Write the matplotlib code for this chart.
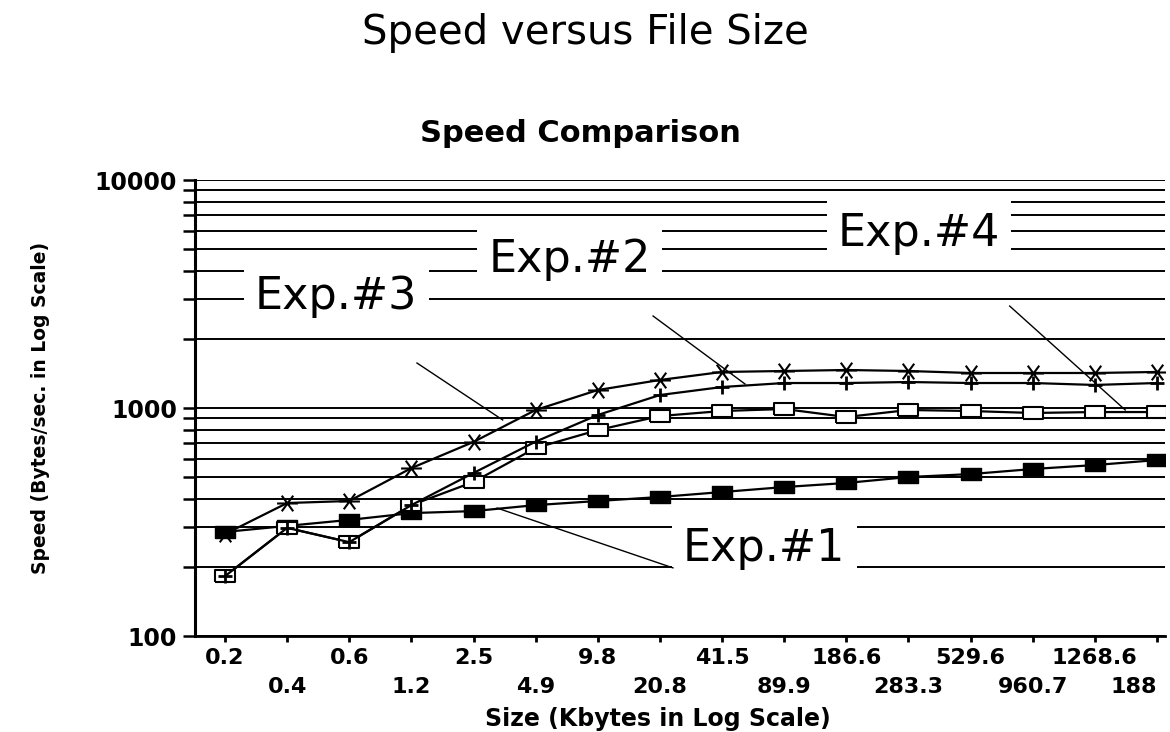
import numpy as np
import matplotlib
matplotlib.use("Agg")
import matplotlib.pyplot as plt
from matplotlib.path import Path
from matplotlib.ticker import LogLocator, NullFormatter

# file sizes (Kbytes) used as categories along the x axis
sizes = ["0.2", "0.4", "0.6", "1.2", "2.5", "4.9", "9.8", "20.8",
         "41.5", "89.9", "186.6", "283.3", "529.6", "960.7", "1268.6", "188"]

# measured speed (Bytes/sec.) per experiment
exp1 = [286, 304, 323, 346, 353, 375, 391, 407, 428, 450, 469, 498, 513, 540, 562, 591]
exp2 = [183, 298, 258, 375, 519, 712, 932, 1140, 1236, 1287, 1287, 1300, 1287, 1287, 1262, 1287]
exp3 = [280, 383, 391, 545, 710, 980, 1199, 1327, 1439, 1453, 1468, 1453, 1424, 1424, 1424, 1439]
exp4 = [183, 298, 258, 375, 474, 668, 800, 922, 970, 990, 913, 980, 970, 951, 960, 960]

plt.rcParams['font.family'] = ['DejaVu Sans']

fig = plt.figure(figsize=(11.7, 7.32), dpi=100)
ax = fig.add_axes([195 / 1170, 96 / 732, 970 / 1170, 456 / 732])

x = np.arange(len(sizes))

# wide rectangle and stretched asterisk markers
rect = [(-1, -0.55), (1, -0.55), (1, 0.55), (-1, 0.55), (-1, -0.55)]
star = Path([(-1, 0), (1, 0), (-0.55, -0.75), (0.55, 0.75), (-0.55, 0.75), (0.55, -0.75)],
            [Path.MOVETO, Path.LINETO] * 3)

ax.plot(x, exp1, color='black', lw=1.6, marker=rect, ms=15, mfc='black', mec='black', zorder=3)
ax.plot(x, exp4, color='black', lw=1.6, marker=rect, ms=15, mfc='white', mec='black', mew=1.5, zorder=3)
ax.plot(x, exp2, color='black', lw=1.6, marker='+', ms=10, mew=2, zorder=4)
ax.plot(x, exp3, color='black', lw=1.6, marker=star, ms=15, mfc='none', mec='black', mew=1.5, zorder=4)

ax.set_yscale('log')
ax.set_ylim(100, 10000)
ax.set_xlim(-0.483, 15.13)

ax.set_yticks([100, 1000, 10000])
ax.set_yticklabels(['100', '1000', '10000'])
ax.yaxis.set_minor_locator(LogLocator(base=10, subs=np.arange(2, 10)))
ax.yaxis.set_minor_formatter(NullFormatter())
ax.yaxis.grid(True, which='both', color='black', lw=1.4)
ax.set_axisbelow(True)

ax.set_xticks(x)
ax.set_xticklabels(sizes, fontsize=16, fontweight='bold')
for t in ax.get_yticklabels():
    t.set_fontsize(17)
    t.set_fontweight('bold')

ax.tick_params(axis='y', which='both', length=9, width=1.8, direction='out', pad=4)
ax.tick_params(axis='x', length=4, width=2, direction='out', pad=4.5)

# staggered x labels: every second one sits on a lower row
for i, tick in enumerate(ax.xaxis.get_major_ticks()):
    if i % 2 == 1:
        tick.set_pad(25.5)
ax.get_xticklabels()[-1].set_horizontalalignment('right')

for side in ['top', 'right']:
    ax.spines[side].set_visible(False)
ax.spines['left'].set_linewidth(2.2)
ax.spines['bottom'].set_linewidth(2)

ax.set_xlabel("Size (Kbytes in Log Scale)", fontsize=17, fontweight='bold')
ax.xaxis.set_label_coords(0.477, -0.155)
ax.set_ylabel("Speed (Bytes/sec. in Log Scale)", fontsize=13.5, fontweight='bold')
ax.yaxis.set_label_coords(-0.1495, 0.5)

# experiment labels with leader lines
box = dict(boxstyle='square,pad=0.25', fc='white', ec='none')
notes = [
    ("Exp.#3", (1.79, 3070), (3.09, 1575), (4.47, 886)),
    ("Exp.#2", (5.55, 4460), (6.89, 2532), (8.37, 1274)),
    ("Exp.#4", (11.17, 5855), (12.63, 2800), (14.49, 980)),
    ("Exp.#1", (8.68, 243), (4.38, 364), (7.21, 199)),
]
for name, pos, p0, p1 in notes:
    ax.text(pos[0], pos[1], name, fontsize=32, ha='center', va='center',
            bbox=box, zorder=2.5)
    ax.plot([p0[0], p1[0]], [p0[1], p1[1]], color='black', lw=1.0, zorder=5)

fig.text(0.5, 0.955, "Speed versus File Size", fontsize=29, ha='center', va='center')
fig.text(0.4957, 0.818, "Speed Comparison", fontsize=22, fontweight='bold',
         ha='center', va='center')

fig.savefig("out.png", dpi=100)
